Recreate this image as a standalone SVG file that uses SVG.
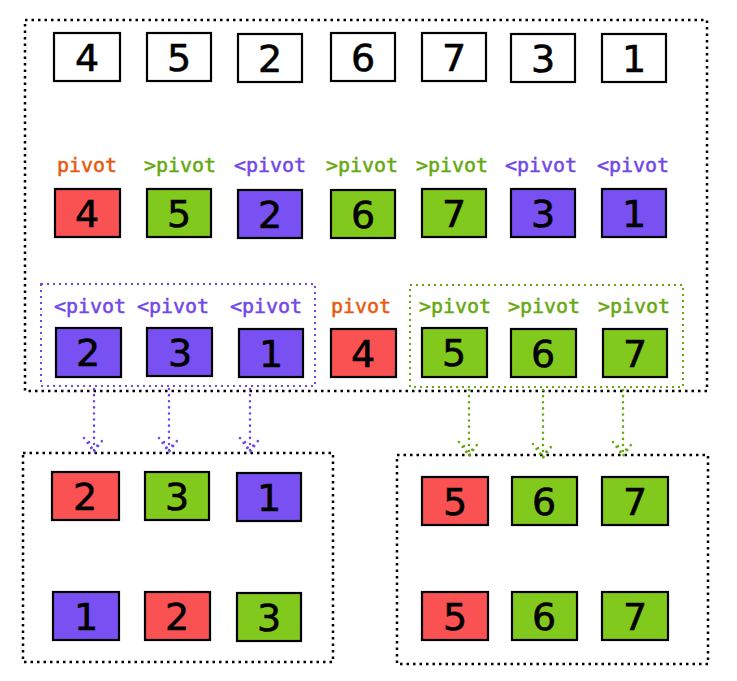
<svg xmlns="http://www.w3.org/2000/svg" width="737" height="681" viewBox="0 0 737 681">
<style>
.frame{fill:none;stroke:#000;stroke-width:2.5;stroke-dasharray:2.5 4}
.gp{fill:none;stroke:#7048e8;stroke-width:2;stroke-dasharray:2 4}
.gg{fill:none;stroke:#66a80f;stroke-width:2;stroke-dasharray:2 4}
.cp{fill:none;stroke:#7048e8;stroke-width:2.5;stroke-dasharray:0.1 6;stroke-linecap:round;stroke-linejoin:round}
.cg{fill:none;stroke:#66a80f;stroke-width:2.5;stroke-dasharray:0.1 6;stroke-linecap:round;stroke-linejoin:round}
.box{stroke:#000;stroke-width:2.2}
.w{fill:#fff}.r{fill:#fa5252}.g{fill:#82c91e}.p{fill:#7950f2}
.d{font-family:"DejaVu Sans","Liberation Sans",sans-serif;font-size:38px;fill:#000;text-anchor:middle;stroke:#000;stroke-width:0.6}
.lb{font-family:"DejaVu Sans Mono","Liberation Mono",monospace;font-size:20px;text-anchor:middle;stroke-width:0.5}
.lr{fill:#e8590c;stroke:#e8590c}.lg{fill:#66a80f;stroke:#66a80f}.lp{fill:#7048e8;stroke:#7048e8}
</style>

<g id="frames">
<rect class="frame" x="25" y="20" width="682" height="371"/>
<rect class="frame" x="23" y="453" width="310" height="209"/>
<rect class="frame" x="397" y="455" width="311" height="209"/>
<rect class="gp" x="41" y="284" width="274" height="102"/>
<rect class="gg" x="410" y="285" width="273" height="102"/>
</g>

<g id="connectors">
<path class="cp" d="M94 389V452M84 438L94 452L104 438M89 442L94 452L99 442"/>
<path class="cp" d="M169 389V452M159 438L169 452L179 438M164 442L169 452L174 442"/>
<path class="cp" d="M250 389V452M240 438L250 452L260 438M245 442L250 452L255 442"/>
<path class="cg" d="M469 390V456M459 442L469 456L479 442M464 446L469 456L474 446"/>
<path class="cg" d="M543 390V458M533 444L543 458L553 444M538 448L543 458L548 448"/>
<path class="cg" d="M623 390V456M613 442L623 456L633 442M618 446L623 456L628 446"/>
</g>

<g id="row1">
<g id="r1n1"><rect class="box w" x="54" y="33" width="66" height="48"/><text class="d" x="87" y="71">4</text></g>
<g id="r1n2"><rect class="box w" x="147" y="33" width="64" height="48"/><text class="d" x="179" y="71">5</text></g>
<g id="r1n3"><rect class="box w" x="238" y="34" width="64" height="48"/><text class="d" x="270" y="72">2</text></g>
<g id="r1n4"><rect class="box w" x="331" y="33" width="64" height="48"/><text class="d" x="363" y="71">6</text></g>
<g id="r1n5"><rect class="box w" x="422" y="33" width="64" height="48"/><text class="d" x="454" y="71">7</text></g>
<g id="r1n6"><rect class="box w" x="511" y="34" width="64" height="48"/><text class="d" x="543" y="72">3</text></g>
<g id="r1n7"><rect class="box w" x="602" y="34" width="64" height="48"/><text class="d" x="634" y="72">1</text></g>
</g>

<g id="row2">
<g id="r2n1"><text class="lb lr" x="87" y="172">pivot</text><rect class="box r" x="55" y="189" width="65" height="48"/><text class="d" x="87" y="227">4</text></g>
<g id="r2n2"><text class="lb lg" x="180" y="172">&gt;pivot</text><rect class="box g" x="147" y="189" width="64" height="48"/><text class="d" x="179" y="227">5</text></g>
<g id="r2n3"><text class="lb lp" x="270" y="172">&lt;pivot</text><rect class="box p" x="238" y="190" width="64" height="48"/><text class="d" x="270" y="228">2</text></g>
<g id="r2n4"><text class="lb lg" x="362" y="172">&gt;pivot</text><rect class="box g" x="331" y="190" width="64" height="48"/><text class="d" x="363" y="228">6</text></g>
<g id="r2n5"><text class="lb lg" x="452" y="172">&gt;pivot</text><rect class="box g" x="422" y="189" width="64" height="48"/><text class="d" x="454" y="227">7</text></g>
<g id="r2n6"><text class="lb lp" x="541" y="172">&lt;pivot</text><rect class="box p" x="511" y="189" width="64" height="48"/><text class="d" x="543" y="227">3</text></g>
<g id="r2n7"><text class="lb lp" x="633" y="172">&lt;pivot</text><rect class="box p" x="602" y="189" width="64" height="48"/><text class="d" x="634" y="227">1</text></g>
</g>

<g id="row3">
<g id="r3n1"><text class="lb lp" x="90" y="313">&lt;pivot</text><rect class="box p" x="56" y="328" width="65" height="49"/><text class="d" x="88" y="366">2</text></g>
<g id="r3n2"><text class="lb lp" x="173" y="313">&lt;pivot</text><rect class="box p" x="147" y="328" width="65" height="48"/><text class="d" x="180" y="366">3</text></g>
<g id="r3n3"><text class="lb lp" x="266" y="313">&lt;pivot</text><rect class="box p" x="239" y="329" width="64" height="48"/><text class="d" x="271" y="367">1</text></g>
<g id="r3n4"><text class="lb lr" x="361" y="313">pivot</text><rect class="box r" x="331" y="329" width="65" height="48"/><text class="d" x="363" y="367">4</text></g>
<g id="r3n5"><text class="lb lg" x="455" y="313">&gt;pivot</text><rect class="box g" x="422" y="328" width="65" height="49"/><text class="d" x="454" y="366">5</text></g>
<g id="r3n6"><text class="lb lg" x="544" y="313">&gt;pivot</text><rect class="box g" x="511" y="329" width="65" height="48"/><text class="d" x="543" y="367">6</text></g>
<g id="r3n7"><text class="lb lg" x="634" y="313">&gt;pivot</text><rect class="box g" x="603" y="329" width="64" height="48"/><text class="d" x="635" y="367">7</text></g>
</g>

<g id="left-sub">
<g id="la1"><rect class="box r" x="52" y="472" width="67" height="48"/><text class="d" x="85" y="510">2</text></g>
<g id="la2"><rect class="box g" x="145" y="472" width="64" height="48"/><text class="d" x="177" y="510">3</text></g>
<g id="la3"><rect class="box p" x="237" y="473" width="64" height="48"/><text class="d" x="269" y="511">1</text></g>
<g id="lb1"><rect class="box p" x="53" y="592" width="66" height="48"/><text class="d" x="86" y="630">1</text></g>
<g id="lb2"><rect class="box r" x="145" y="592" width="65" height="48"/><text class="d" x="177" y="630">2</text></g>
<g id="lb3"><rect class="box g" x="237" y="593" width="64" height="48"/><text class="d" x="269" y="631">3</text></g>
</g>

<g id="right-sub">
<g id="ra1"><rect class="box r" x="422" y="477" width="66" height="48"/><text class="d" x="455" y="515">5</text></g>
<g id="ra2"><rect class="box g" x="512" y="477" width="65" height="48"/><text class="d" x="544" y="515">6</text></g>
<g id="ra3"><rect class="box g" x="602" y="477" width="66" height="48"/><text class="d" x="635" y="515">7</text></g>
<g id="rb1"><rect class="box r" x="422" y="592" width="66" height="48"/><text class="d" x="455" y="630">5</text></g>
<g id="rb2"><rect class="box g" x="512" y="592" width="65" height="48"/><text class="d" x="544" y="630">6</text></g>
<g id="rb3"><rect class="box g" x="602" y="592" width="66" height="48"/><text class="d" x="635" y="630">7</text></g>
</g>
</svg>
